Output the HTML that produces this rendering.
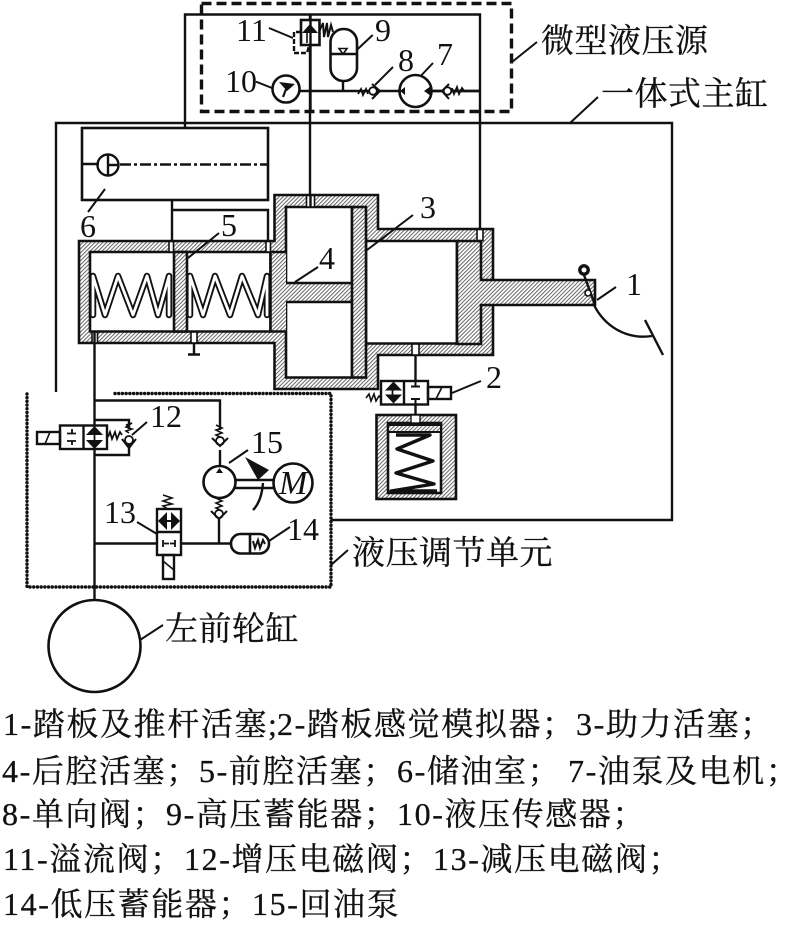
<!DOCTYPE html>
<html><head><meta charset="utf-8"><style>
html,body{margin:0;padding:0;background:#fff}
svg{display:block}
.n{font:32px "Liberation Serif",serif;fill:#111}
.c{font:32px "Liberation Serif","Noto Serif CJK SC",serif;fill:#111;letter-spacing:1.6px;stroke:#111;stroke-width:.3px}
.l{font:33px "Liberation Serif","Noto Serif CJK SC",serif;fill:#111;letter-spacing:.5px;stroke:#111;stroke-width:.3px}
</style></head><body>
<svg width="800" height="925" viewBox="0 0 800 925" xmlns="http://www.w3.org/2000/svg">
<defs>
<pattern id="h" width="2.8" height="2.8" patternUnits="userSpaceOnUse" patternTransform="rotate(45)"><rect width="2.8" height="2.8" fill="#fff"/><rect width="1" height="2.8" fill="#666"/></pattern>
</defs>
<g fill="none" stroke="#111" stroke-width="2.4">
<!-- outer housing -->
<path d="M56,392V123H672V520H331"/>
<path d="M185,127V14.500H480V230M310,14.500V195"/>
<rect x="82" y="128" width="186" height="72" stroke-width="2.600"/>
<path d="M82,164H99"/><circle cx="108" cy="165" r="10.500"/><path d="M108,154V176M108,165H119"/>
<path d="M120,164.500H268" stroke-width="2.600" stroke-dasharray="11 3 3 3"/>
<path d="M172,200V241M172,210H268V241"/>
<!-- body -->
<path fill="url(#h)" stroke-width="2.600" d="M79,241H274.500V195H378V229H493V355H378V389H274.500V343H79Z"/>
<g fill="#fff" stroke-width="2.600">
<path d="M90,252H270.500V331.500H90Z"/>
<path d="M286,207H352V377.500H286Z"/>
<path d="M366,241H457V343.500H366Z"/>
</g>
<rect x="174" y="252" width="13" height="79.500" fill="url(#h)" stroke-width="2.600"/>
<rect x="270.500" y="252" width="15.500" height="79.500" fill="url(#h)" stroke="none"/>
<rect x="285" y="284" width="68" height="17" fill="url(#h)" stroke="none"/>
<path stroke-width="2.600" d="M270.500,252V331.500M270.500,252H286M270.500,331.500H286M286,283H352M286,302H352"/>
<rect x="352" y="207" width="14" height="170.500" fill="url(#h)" stroke-width="2.600"/>
<path fill="url(#h)" stroke-width="2.600" d="M457,241H481V280H595V305H481V344H457Z"/>
<path stroke="none" fill="url(#h)" d="M482,281.500H494V303.500H482Z"/>
<!-- ports -->
<g fill="#fff" stroke-width="1.600">
<rect x="306.500" y="195.500" width="8" height="11.500"/>
<rect x="169" y="241.500" width="4.500" height="10.500"/>
<rect x="266" y="241.500" width="4.500" height="10.500"/>
<rect x="92" y="332" width="5.500" height="11"/>
<rect x="191" y="332" width="6" height="11"/>
<rect x="412" y="344" width="7" height="11"/>
<rect x="477" y="229.500" width="6" height="11"/>
</g>
<path d="M310.500,195V207M94.500,332V600M194,343V354M188,354.500H200M415.500,355V381M415.500,404V416"/>
<!-- springs -->
<g stroke-linejoin="round" stroke-linecap="round">
<g stroke-width="6.500"><path d="M93,276V315M93,276L105,315L118,276L133,315L147,276L158,315L169,276V315"/><path d="M190,276V315M190,276L203,315L215,276L230,315L242,276L258,315L267,276V315"/></g>
<g stroke="#fff" stroke-width="2.800"><path d="M93,276V315M93,276L105,315L118,276L133,315L147,276L158,315L169,276V315"/><path d="M190,276V315M190,276L203,315L215,276L230,315L242,276L258,315L267,276V315"/></g>
</g>
<!-- pedal -->
<circle cx="584" cy="270" r="4.200" stroke-width="3.400"/>
<path d="M584,275L595,305"/><circle cx="588" cy="293" r="3" fill="#fff" stroke-width="1.600"/>
<path d="M594,305C604,325 625,340 652,336"/>
<path d="M645,320L663,355"/>
<!-- valve 2 and simulator -->
<rect x="381" y="381" width="47" height="23.500" fill="#fff"/><path d="M404,381V404.500"/>
<rect x="428" y="387" width="23" height="12"/><path d="M436,399L442,387" stroke-width="1.600"/>
<path d="M366,398L369,394L371,401L374,394L376,401L379,396L381,398" stroke-width="1.600"/>
<path d="M392.500,385V400" stroke-width="1.800"/><path d="M415.500,381V386M411,386.500H420M415.500,404V399M411,399H420" stroke-width="2"/>
<path fill="#111" stroke="none" d="M393.500,381.500L402,390.500H385ZM393.500,403.500L402,394.500H385Z"/>
<rect x="376.500" y="415" width="79.500" height="84" fill="url(#h)" stroke-width="2.600"/>
<rect x="388" y="423" width="53" height="70" fill="#fff" stroke-width="2.600"/>
<rect x="411" y="415" width="9" height="8" fill="#fff" stroke-width="1.400"/>
<rect x="388" y="425" width="53" height="7" fill="url(#h)" stroke-width="2"/>
<path d="M396,435H430L397,449L433,461L396,473L434,484L391,491H437" stroke-width="3.400" stroke-linejoin="round"/>
<!-- micro source -->
<rect x="201.500" y="3.500" width="310" height="108" stroke-width="3.400" stroke-dasharray="10 5"/>
<path d="M299,91H480"/>
<circle cx="286" cy="89" r="13.500" stroke-width="2.600"/>
<path d="M283,97L288,84" stroke-width="2.200"/><path fill="#111" stroke="none" d="M279,82L295,84L287,91Z"/>
<rect x="301" y="20" width="18.500" height="25" stroke-width="2.600" fill="#fff"/>
<path d="M310.500,14V112"/>
<path fill="#111" stroke="none" d="M310,24L318,33H302Z"/>
<path d="M307,30V43" stroke-width="1.600"/>
<path d="M301,32H294V53H307L309,46" stroke-width="2.400" stroke-dasharray="5 2"/>
<path d="M319,32L323,23L324,37L327,23L328,37L331,25L333,32" stroke-width="2"/>
<rect x="330.500" y="29" width="26.500" height="52" rx="13" ry="13" stroke-width="2.600" fill="#fff"/>
<path d="M330.500,54H357"/><path d="M339,48.500H347L343,54Z" stroke-width="1.600"/>
<path d="M343,81V91"/>
<path d="M358,94L361,89L363,95L366,89L368,94" stroke-width="1.800"/>
<circle cx="373" cy="91" r="3.800" fill="#fff" stroke-width="1.800"/>
<path d="M372,84L380,91L372,99" stroke-width="2"/>
<circle cx="415.500" cy="91" r="16" fill="#fff" stroke-width="2.600"/>
<path d="M432,91H480"/>
<path fill="#111" stroke="none" d="M400,91L405,87V95ZM424,91L431,86V96Z"/>
<circle cx="447.500" cy="91" r="3.800" fill="#fff" stroke-width="1.800"/>
<path d="M449,84L442,91L449,99" stroke-width="2"/>
<path d="M452,88L454,94L457,87L459,94L462,88L465,92" stroke-width="1.800"/>
<!-- ECU dotted box -->
<path d="M115,393.500H331V587H27V394" stroke-width="3.400" stroke-dasharray="0.100 3.600" stroke-linecap="round"/>
<!-- valve 12 -->
<path d="M94.500,400.500H220V430M220,450V467"/>
<path d="M95,420H129V429M95,455H129V443"/>
<rect x="60" y="425.500" width="47" height="23.500" fill="#fff"/><path d="M83.500,425.500V449"/>
<rect x="37" y="432" width="23" height="12"/><path d="M45,444L50,432" stroke-width="1.600"/>
<path d="M72,429V433M67,433.500H76M72,445V441M67,441H76" stroke-width="1.800"/>
<path d="M94.500,425.500V449" stroke-width="1.800"/>
<path fill="#111" stroke="none" d="M94.500,426L103,435H86ZM94.500,449L103,440H86Z"/>
<path d="M108,437L110,432L112,439L115,432L117,439L120,432L122,435" stroke-width="1.800"/>
<path d="M126,425L132,423L126,427L132,429L126,431L129,433" stroke-width="1.600"/>
<circle cx="129" cy="440" r="4" fill="#fff" stroke-width="1.800"/>
<path d="M122,439L129,448L136,439" stroke-width="2"/>
<!-- pump 15 -->
<path d="M216,425L222,428L216,430L222,433L216,435L220,437" stroke-width="1.600"/>
<circle cx="220" cy="441" r="4" fill="#fff" stroke-width="1.800"/>
<path d="M212,438L220,446L228,438" stroke-width="2"/>
<circle cx="219.500" cy="482" r="16" fill="#fff" stroke-width="2.600"/>
<path fill="#111" stroke="none" d="M219.500,468L223,473H216Z"/>
<path d="M235,480H273M235,488H273" stroke-width="2.600"/>
<circle cx="293" cy="483" r="19.500" stroke-width="2.600"/>
<path fill="#111" stroke="none" d="M245,457L269,470L258,480Z"/>
<path d="M263,483C262,495 259,504 253,510" stroke-width="2.400"/>
<path d="M216,498L222,501L216,503L222,506L216,508L220,510" stroke-width="1.600"/>
<circle cx="219" cy="514" r="4" fill="#fff" stroke-width="1.800"/>
<path d="M211,511L219,519L227,511" stroke-width="2"/>
<path d="M219,519V544"/>
<!-- valve 13 -->
<path d="M94.500,543.500H157M181,543.500H231"/>
<rect x="157" y="509" width="24" height="46" fill="#fff"/><path d="M157,532H181"/>
<path d="M166,521H172" stroke-width="2"/>
<path fill="#111" stroke="none" d="M158,521L167,512V530ZM180,521L171,512V530Z"/>
<path d="M163,540V547M164,543.500H169M175,540V547M170,543.500H175" stroke-width="1.800"/>
<path d="M163,495L172,498L163,501L172,504L163,506L168,509" stroke-width="1.600"/>
<rect x="163" y="555" width="11" height="24"/><path d="M163,561L174,570" stroke-width="1.600"/>
<!-- accumulator 14 -->
<rect x="231" y="534" width="38" height="19.500" rx="9.500" ry="9.500" stroke-width="2.600" fill="#fff"/>
<path d="M250,534V553.500" stroke-width="2.600"/>
<path d="M253,541L255,548L258,540L260,548L263,540L265,544" stroke-width="2"/>
<!-- wheel cylinder -->
<circle cx="94.500" cy="646" r="46" stroke-width="2.600"/>
<!-- leaders -->
<g stroke-width="2">
<path d="M269,28L293,38M372.700,35L356.700,50M393,67L375,85M433,63L420.700,76M256,81.700L272,88"/>
<path d="M105,189L88,212M219,233L188,258M318,267L295,282M413,215L367,250M616,287L597,300M481,381L452,393"/>
<path d="M147,422L132,435M137,522L157,534M290,527L269,541M248,450L229,463"/>
<path d="M512,62L537,42M570,123L598,97M140,640L163,625M331,565L348,550"/>
</g>
</g>
<!-- labels -->
<text class="n" x="236" y="41">11</text>
<text class="n" x="375" y="41">9</text>
<text class="n" x="398" y="71">8</text>
<text class="n" x="437" y="65">7</text>
<text class="n" x="225" y="92">10</text>
<text class="n" x="80" y="237">6</text>
<text class="n" x="221" y="236">5</text>
<text class="n" x="319" y="269">4</text>
<text class="n" x="420" y="218">3</text>
<text class="n" x="626" y="295">1</text>
<text class="n" x="486" y="388">2</text>
<text class="n" x="150" y="427">12</text>
<text class="n" x="251" y="453">15</text>
<text class="n" x="104" y="523">13</text>
<text class="n" x="287" y="540">14</text>
<text x="279" y="494" style="font:italic 34px 'Liberation Serif',serif;fill:#111">M</text>
<text class="l" x="541" y="52">微型液压源</text>
<text class="l" x="601" y="105">一体式主缸</text>
<text class="l" x="352" y="564">液压调节单元</text>
<text class="l" x="165" y="640">左前轮缸</text>
<!-- caption -->
<text class="c" x="3" y="735">1-踏板及推杆活塞;</text>
<text class="c" x="277" y="735">2-踏板感觉模拟器；</text>
<text class="c" x="576" y="735">3-助力活塞；</text>
<text class="c" x="2" y="782">4-后腔活塞；</text>
<text class="c" x="199" y="782">5-前腔活塞；</text>
<text class="c" x="397" y="782">6-储油室；</text>
<text class="c" x="568" y="782">7-油泵及电机；</text>
<text class="c" x="2" y="825">8-单向阀；</text>
<text class="c" x="166" y="825">9-高压蓄能器；</text>
<text class="c" x="397" y="825">10-液压传感器；</text>
<text class="c" x="3" y="870">11-溢流阀；</text>
<text class="c" x="184" y="870">12-增压电磁阀；</text>
<text class="c" x="433" y="870">13-减压电磁阀；</text>
<text class="c" x="3" y="915">14-低压蓄能器；</text>
<text class="c" x="252" y="915">15-回油泵</text>
</svg>
</body></html>
